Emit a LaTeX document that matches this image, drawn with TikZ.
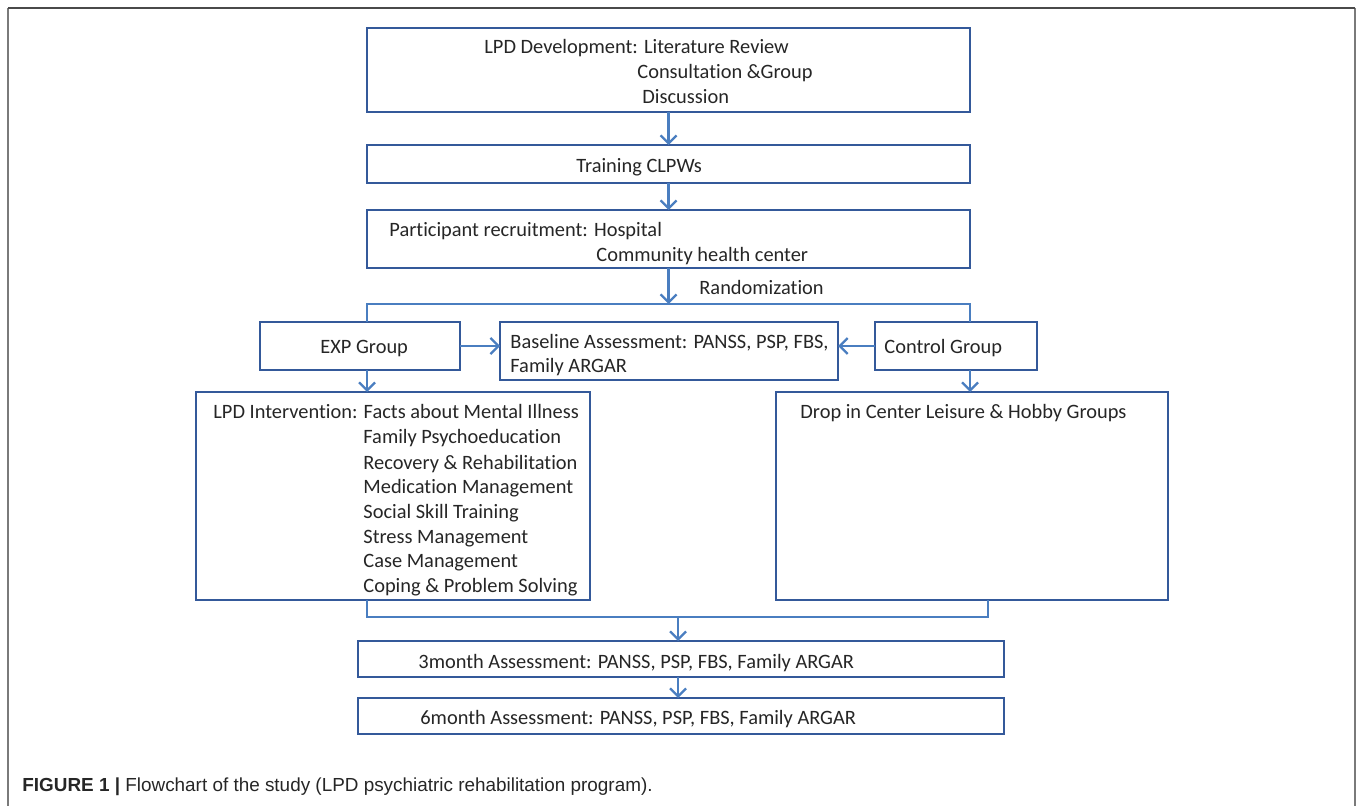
\documentclass[tikz,border=0pt]{standalone}
\usepackage{fontspec}
\setmainfont{Carlito}[Ligatures={NoCommon}]
\newfontfamily\capfont{Liberation Sans}
\usetikzlibrary{arrows.meta}
\definecolor{boxblue}{HTML}{34599A}
\definecolor{arrblue}{HTML}{4A7EC0}
\definecolor{txtgray}{HTML}{262626}
\definecolor{framegray}{HTML}{7A7A7A}
\definecolor{framedark}{HTML}{4A4A4A}
\newcommand\mybox[5]{\node[boxst, minimum width=#4*0.5pt, minimum height=#5*0.5pt] (#1) at (#2,#3) {};}
\tikzset{
  boxst/.style={draw=boxblue, line width=1.4pt, inner sep=0pt, outer sep=0pt, fill=white},
  txt/.style={anchor=base west, inner sep=0pt, text=txtgray, yshift=-1pt, font=\fontsize{10.2pt}{12pt}\selectfont},
  arr/.style={draw=arrblue, line width=1.15pt, -{Straight Barb[length=4pt,width=8pt,line width=1.15pt]}},
  ln/.style={draw=arrblue, line width=1.15pt},
}
\begin{document}
\begin{tikzpicture}[x=0.5pt,y=-0.5pt]
\useasboundingbox (0,0) rectangle (1358,806);
% frame
\draw[framegray, line width=1pt] (8,806) -- (8,8);
\draw[framegray, line width=1pt] (1355,8) -- (1355,806);
\draw[framedark, line width=1pt] (8,8) -- (1355,8);
% boxes
\mybox{dev}{668.5}{70}{603}{84}
\mybox{train}{668.5}{164}{603}{38}
\mybox{part}{668.5}{239}{603}{58}
\mybox{exp}{360}{346}{200}{48}
\mybox{base}{669}{351}{338}{58}
\mybox{ctrl}{956}{346}{162}{48}
\mybox{lpdi}{393}{496}{394}{208}
\mybox{drop}{972}{496}{392}{208}
\mybox{mthree}{681}{659}{646}{36}
\mybox{msix}{681}{716}{646}{36}
% coordinates
\coordinate (rL) at (367,304);
\coordinate (rR) at (970,304);
\coordinate (rC) at (668.5,304);
\coordinate (mL) at (367,617);
\coordinate (mR) at (988,617);
\coordinate (mC) at (678,617);
% texts
\node[txt] (t1) at (484,52) {LPD Development: Literature Review};
\node[txt] (t2) at (637,77) {Consultation \&Group};
\node[txt] (t3) at (642,102) {Discussion};
\node[txt] (t4) at (576,171) {Training CLPWs};
\node[txt] (t5) at (389,235) {Participant recruitment: Hospital};
\node[txt] (t6) at (596,260) {Community health center};
\node[txt] (t7) at (699,293) {Randomization};
\node[txt] (t8) at (320,352) {EXP Group};
\node[txt] (t9) at (510,347) {Baseline Assessment: PANSS, PSP, FBS,};
\node[txt] (t10) at (510,371) {Family ARGAR};
\node[txt] (t11) at (884,352) {Control Group};
\node[txt] (t12) at (213,417) {LPD Intervention: Facts about Mental Illness};
\node[txt] (t13) at (363,442) {Family Psychoeducation};
\node[txt] (t14) at (363,467) {Recovery \& Rehabilitation};
\node[txt] (t15) at (363,492) {Medication Management};
\node[txt] (t16) at (363,516) {Social Skill Training};
\node[txt] (t17) at (363,541) {Stress Management};
\node[txt] (t18) at (363,565) {Case Management};
\node[txt] (t19) at (363,590) {Coping \& Problem Solving};
\node[txt] (t20) at (800,417) {Drop in Center Leisure \& Hobby Groups};
\node[txt] (t21) at (418,666) {3month Assessment: PANSS, PSP, FBS, Family ARGAR};
\node[txt] (t22) at (420,722) {6month Assessment: PANSS, PSP, FBS, Family ARGAR};
% connectors
\draw[arr] (dev.south) -- (train.north);
\draw[arr] (train.south) -- (part.north);
\draw[arr] (part.south) -- (rC);
\draw[ln] (rL |- exp.north) -- (rL) -- (rR) -- (rR |- ctrl.north);
\draw[arr] (exp.east) -- (exp.east -| base.west);
\draw[arr] (ctrl.west) -- (ctrl.west -| base.east);
\draw[arr] (rL |- exp.south) -- (rL |- lpdi.north);
\draw[arr] (rR |- ctrl.south) -- (rR |- drop.north);
\draw[ln] (rL |- lpdi.south) -- (mL) -- (mR) -- (mR |- drop.south);
\draw[arr] (mC) -- (mC |- mthree.north);
\draw[arr] (mC |- mthree.south) -- (mC |- msix.north);
% caption
\node[anchor=base west, inner sep=0pt, text=txtgray, font=\capfont\fontsize{9.45pt}{11pt}\selectfont] (cap) at (22,791) {\textbf{FIGURE 1 |} Flowchart of the study (LPD psychiatric rehabilitation program).};
\end{tikzpicture}
\end{document}
